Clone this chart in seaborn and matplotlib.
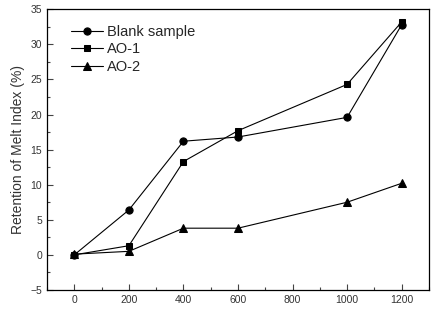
import matplotlib
matplotlib.use("Agg")
import matplotlib.pyplot as plt
from matplotlib.ticker import MultipleLocator
import seaborn as sns
import pandas as pd

time = [0, 200, 400, 600, 1000, 1200]
blank = [0.0, 6.4, 16.2, 16.8, 19.6, 32.8]
ao1 = [0.0, 1.3, 13.3, 17.7, 24.3, 33.2]
ao2 = [0.1, 0.5, 3.8, 3.8, 7.5, 10.2]
series_names = ["Blank sample", "AO-1", "AO-2"]

df = pd.concat([
    pd.DataFrame({"time": time, "value": vals, "series": name})
    for name, vals in zip(series_names, [blank, ao1, ao2])
], ignore_index=True)

sns.set_style("ticks")
plt.rcParams['font.family'] = ['Liberation Sans', 'DejaVu Sans']

fig = plt.figure(figsize=(4.44, 3.34), dpi=100)
ax = fig.add_axes([0.106, 0.132, 0.86, 0.840])

markers = {"Blank sample": "o", "AO-1": "s", "AO-2": "^"}
sizes = {"Blank sample": 5.2, "AO-1": 4.6, "AO-2": 6.2}
for name in series_names:
    sub = df[df["series"] == name]
    sns.lineplot(data=sub, x="time", y="value", ax=ax, color="black",
                 marker=markers[name], markersize=sizes[name], linewidth=0.8,
                 markeredgecolor="black", label=name)

ax.set_xlim(-100, 1300)
ax.set_ylim(-5, 35)
ax.xaxis.set_major_locator(MultipleLocator(200))
ax.xaxis.set_minor_locator(MultipleLocator(100))
ax.yaxis.set_major_locator(MultipleLocator(5))
ax.yaxis.set_minor_locator(MultipleLocator(2.5))
ax.tick_params(which="both", direction="in", colors="#444444", labelsize=7.5)
ax.tick_params(which="major", length=4, width=0.8)
ax.tick_params(which="minor", length=2.5, width=0.8)
for lbl in ax.get_xticklabels() + ax.get_yticklabels():
    lbl.set_color("#333333")
for s in ax.spines.values():
    s.set_linewidth(0.9)
    s.set_color("black")
    s.set_visible(True)

ax.set_xlabel("")
ax.set_ylabel("Retention of Melt Index (%)", fontsize=10, color="#333333", labelpad=4)

ax.legend(loc="upper left", frameon=False, fontsize=10.5, handlelength=2.2,
          handletextpad=0.3, borderaxespad=0.3, labelspacing=0.25,
          bbox_to_anchor=(0.035, 0.982))

fig.savefig("out.png", dpi=100)
